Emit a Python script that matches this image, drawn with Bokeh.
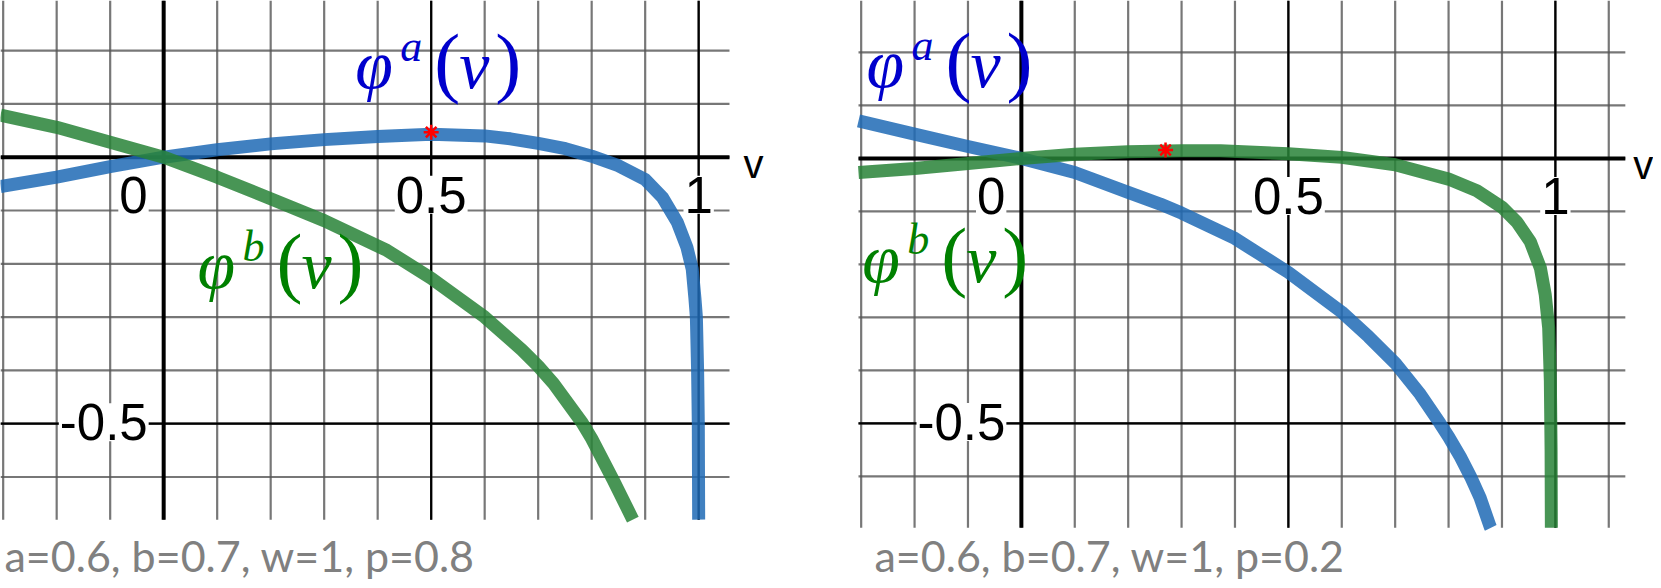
from bokeh.plotting import figure
from bokeh.models import Range1d, Label
from bokeh.core.properties import value
from bokeh.layouts import row
from bokeh.embed import file_html
from bokeh.resources import INLINE

# ---------------- data ----------------
# left panel: a=0.6, b=0.7, w=1, p=0.8
v_a_left = [-0.305, -0.2, -0.1, 0.0, 0.1, 0.2, 0.3, 0.4, 0.5, 0.6, 0.648, 0.7, 0.751, 0.8,
            0.85, 0.9, 0.932, 0.96, 0.978, 0.988, 0.993, 0.9957, 0.998, 0.9993, 1.0]
phi_a_left = [-0.055, -0.0375, -0.0175, 0.0, 0.014, 0.025, 0.033, 0.039, 0.043, 0.040, 0.0345,
              0.026, 0.016, 0.002, -0.016, -0.042, -0.075, -0.122, -0.169, -0.21, -0.265,
              -0.30, -0.40, -0.50, -0.68]
v_b_left = [-0.305, -0.2, -0.1, 0.0, 0.1, 0.2, 0.3, 0.4175, 0.5, 0.6, 0.67, 0.7, 0.729, 0.782,
            0.80, 0.84, 0.8755, 0.877]
phi_b_left = [0.079, 0.056, 0.028, 0.0, -0.0375, -0.078, -0.119, -0.175, -0.227, -0.300, -0.362,
              -0.392, -0.425, -0.498, -0.528, -0.605, -0.677, -0.680]
star_v_left = [0.5]
star_phi_left = [0.047]

# right panel: a=0.6, b=0.7, w=1, p=0.2
v_a_right = [-0.305, -0.2, -0.1, 0.0, 0.1, 0.2, 0.26, 0.3, 0.4, 0.447, 0.5, 0.6, 0.65, 0.7,
             0.747, 0.784, 0.8, 0.822, 0.841, 0.859, 0.878, 0.879]
phi_a_right = [0.071, 0.046, 0.0226, 0.0, -0.0265, -0.064, -0.086, -0.103, -0.151, -0.181,
               -0.215, -0.29, -0.336, -0.386, -0.445, -0.50, -0.525, -0.563, -0.60, -0.640,
               -0.695, -0.697]
v_b_right = [-0.305, -0.2, -0.1, 0.0, 0.1, 0.2, 0.3, 0.373, 0.5, 0.6, 0.7, 0.8, 0.853, 0.9,
             0.928, 0.953, 0.972, 0.981, 0.9875, 0.9906, 0.992, 0.9925]
phi_b_right = [-0.0265, -0.019, -0.0094, 0.0, 0.008, 0.0125, 0.0143, 0.0143, 0.009, 0.002,
               -0.012, -0.039, -0.061, -0.092, -0.12, -0.157, -0.207, -0.257, -0.32, -0.42,
               -0.55, -0.697]
star_v_right = [0.27]
star_phi_right = [0.016]

grid_v = [-0.3, -0.2, -0.1, 0.0, 0.1, 0.2, 0.3, 0.4, 0.5, 0.6, 0.7, 0.8, 0.9, 1.0, 1.1]
grid_phi = [-0.6, -0.5, -0.4, -0.3, -0.2, -0.1, 0.0, 0.1, 0.2]
major_v = [0.5, 1.0]
major_phi = [-0.5]
x_ticks = [0.0, 0.5, 1.0]
x_tick_text = ["0", "0.5", "1"]
y_ticks = [-0.5]
y_tick_text = ["-0.5"]
captions = ["a=0.6, b=0.7, w=1, p=0.8", "a=0.6, b=0.7, w=1, p=0.2"]

BLUE = "#1e6ab5"
GREEN = "#288337"
TXT_BLUE = "#0000cc"
TXT_GREEN = "#008000"
GRID = "#555555"
HEIGHT = 580


def corr(size):
    # empirical lift so that the alphabetic baseline lands where intended
    return 0.34 * size


def math_label(p, x, y, sup, color):
    pieces = [
        ("\u03c6", 0, 0, "italic", 68),
        (sup, 45, 27, "italic", 44),
        ("(", 79, 0, "normal", 78),
        ("v", 104, 0, "italic", 68),
        (")", 140, 0, "normal", 78),
    ]
    for txt, dx, dy, style, size in pieces:
        p.add_layout(Label(x=x, y=y, x_offset=dx, y_offset=dy + corr(size), text=txt,
                           text_font="Liberation Serif", text_font_style=style,
                           text_font_size=f"{size}px", text_color=color,
                           text_align="left", text_baseline="alphabetic"))


def tick_text(p, xs, ys, texts, align, dx):
    kw = dict(text_font=value("Liberation Sans"), text_font_size=value("51px"),
              text_color="black", text_align=align, text_baseline="alphabetic",
              x_offset=dx)
    try:
        p.text(x=xs, y=ys, text=texts, background_fill_color="white", padding=1, **kw)
    except Exception:
        p.text(x=xs, y=ys, text=texts, **kw)


def make_panel(width, x_view, y_view, gx, gy, va, pa, vb, pb, sv, sp, caption, cap_dx,
               lab_a, lab_b, v_dx):
    p = figure(width=width, height=HEIGHT, frame_width=width, frame_height=HEIGHT,
               x_range=Range1d(*x_view), y_range=Range1d(*y_view),
               x_axis_location=None, y_axis_location=None, title=None,
               toolbar_location=None, output_backend="svg",
               min_border=0, min_border_left=0, min_border_right=0, min_border_top=0,
               min_border_bottom=0, outline_line_color=None,
               background_fill_color="white", border_fill_color="white")
    p.grid.visible = False
    ppy = HEIGHT / (y_view[1] - y_view[0])
    x0, x1 = gx
    y0, y1 = gy

    # minor grid
    vx = [g for g in grid_v if x0 <= g <= x1]
    hy = [g for g in grid_phi if y0 <= g <= y1]
    p.segment(x0=vx, y0=[y0] * len(vx), x1=vx, y1=[y1] * len(vx),
              line_color=GRID, line_alpha=0.8, line_width=2.2)
    p.segment(x0=[x0] * len(hy), y0=hy, x1=[x1] * len(hy), y1=hy,
              line_color=GRID, line_alpha=0.8, line_width=2.2)
    # major grid
    p.segment(x0=major_v, y0=[y0] * len(major_v), x1=major_v, y1=[y1] * len(major_v),
              line_color="black", line_width=2.2)
    p.segment(x0=[x0] * len(major_phi), y0=major_phi, x1=[x1] * len(major_phi), y1=major_phi,
              line_color="black", line_width=2.2)
    # axes through the origin
    p.segment(x0=[0, x0], y0=[y0, 0], x1=[0, x1], y1=[y1, 0], line_color="black", line_width=4)

    # tick labels (white halo box), below the curves
    base_x = -(55 - corr(51)) / ppy
    tick_text(p, x_ticks[:1], [base_x], x_tick_text[:1], "right", -15)
    tick_text(p, x_ticks[1:], [base_x] * (len(x_ticks) - 1), x_tick_text[1:], "center", 0)
    tick_text(p, [0.0] * len(y_ticks), [t - (16 - corr(51)) / ppy for t in y_ticks],
              y_tick_text, "right", -15)

    # curves
    p.line(va, pa, line_width=13, line_color=BLUE, line_alpha=0.85, line_join="round")
    p.line(vb, pb, line_width=13, line_color=GREEN, line_alpha=0.85, line_join="round")
    p.scatter(sv, sp, marker="asterisk", size=15, line_color="red", line_width=2.5)

    # axis name
    p.add_layout(Label(x=x1, y=0, x_offset=v_dx, y_offset=-20 + corr(40), text="v",
                       text_font="Liberation Sans", text_font_size="40px",
                       text_color="black", text_baseline="alphabetic"))

    math_label(p, lab_a[0], lab_a[1], "a", TXT_BLUE)
    math_label(p, lab_b[0], lab_b[1], "b", TXT_GREEN)

    # caption, baseline 10 px above the bottom of the canvas
    p.add_layout(Label(x=x0, y=y_view[0], x_offset=cap_dx, y_offset=10 + corr(43),
                       text=caption, text_font="Lato", text_font_size="43px",
                       text_color="#808080", text_baseline="alphabetic"))
    return p


# left canvas: 800 px wide, grid area v in [-0.305, 1.0576], phi in [-0.680, 0.294]
p1 = make_panel(800, (-0.305, -0.305 + 800 / 535), (0.294 - HEIGHT / 533, 0.294),
                (-0.305, 1.0576), (-0.680, 0.294),
                v_a_left, phi_a_left, v_b_left, phi_b_left, star_v_left, star_phi_left,
                captions[0], 4, (0.358, 0.129), (0.063, -0.2454), 14)
# right canvas: 853 px wide, grid area v in [-0.305, 1.131], phi in [-0.697, 0.298]
xs = -0.305 - 58 / 534
p2 = make_panel(853, (xs, xs + 853 / 534), (0.298 - HEIGHT / 530, 0.298),
                (-0.305, 1.131), (-0.697, 0.298),
                v_a_right, phi_a_right, v_b_right, phi_b_right, star_v_right, star_phi_right,
                captions[1], 16, (-0.29, 0.1345), (-0.298, -0.2325), 8)

layout = row(p1, p2)
open("out.html", "w").write(file_html(layout, INLINE, title="phi"))
